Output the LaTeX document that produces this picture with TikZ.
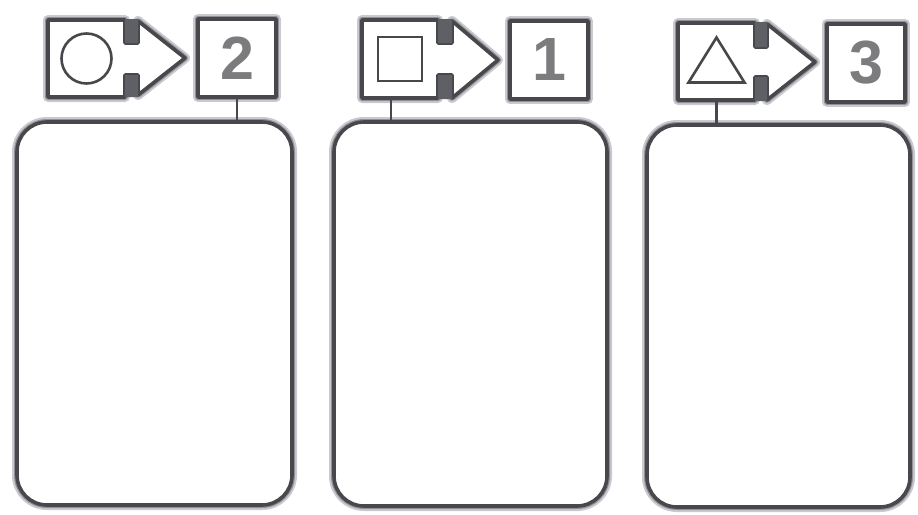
\documentclass[tikz,border=0pt]{standalone}
\usepackage{fontspec}
\newfontfamily\numfont{Liberation Sans}
\usetikzlibrary{calc}
\definecolor{linec}{HTML}{48484C}
\definecolor{numc}{HTML}{7C7C7E}
\definecolor{haloa}{HTML}{C8CAD0}
\definecolor{halob}{HTML}{909298}
\definecolor{notchc}{HTML}{5E6066}
\tikzset{
  frame/.style={draw=linec, line width=3.6pt, line join=round,
    preaction={draw=haloa, line width=10pt, line join=round},
    preaction={draw=halob, line width=6pt, line join=round}},
  panel/.style={frame, fill=white, rounded corners=30pt, inner sep=0pt},
  numbox/.style={frame, fill=white, rectangle, minimum width=78pt, minimum height=78pt, inner sep=0pt,
    font=\numfont\bfseries\fontsize{61}{61}\selectfont, text=numc},
  holder/.style={rectangle, draw=none, minimum width=77pt, minimum height=77pt, inner sep=0pt},
  notch/.style={fill=notchc, draw=none},
  sym/.style={draw=linec, line width=2.6pt, line join=miter},
  link/.style={draw=linec, line width=2.4pt}
}
\begin{document}
\begin{tikzpicture}[x=1pt,y=-1pt]
\useasboundingbox[fill=white] (0,0) rectangle (918,514);

% panels
\node[panel, minimum width=275pt, minimum height=383pt] (P1) at (154.5,313.5) {};
\node[panel, minimum width=273pt, minimum height=384pt] (P2) at (470.5,314) {};
\node[panel, minimum width=263pt, minimum height=382pt] (P3) at (778.5,316) {};

% tag 1
\draw[frame, fill=white] (48,20) -- (125,20) -- (125,43) -- (138,43) -- (138,21) -- (185,58)
  -- (138,95) -- (138,75) -- (125,75) -- (125,97) -- (48,97) -- cycle;
\path[notch] (125,19) rectangle (138,43) (125,75) rectangle (138,97);
\node[holder] (L1) at (86.5,58.5) {};
\draw[sym] (L1.center) circle (25pt);
\node[numbox] (N1) at (237,58) {2};

% tag 2
\draw[frame, fill=white] (362,20) -- (438,20) -- (438,43) -- (452,43) -- (452,21) -- (498,60)
  -- (452,98) -- (452,75) -- (438,75) -- (438,98) -- (362,98) -- cycle;
\path[notch] (438,19) rectangle (452,43) (438,75) rectangle (452,99);
\node[holder] (L2) at (400,59) {};
\draw[sym] ($(L2.center)+(-22,-22)$) rectangle ($(L2.center)+(22,22)$);
\node[numbox] (N2) at (549,60) {1};

% tag 3
\draw[frame, fill=white] (678,23) -- (755,23) -- (755,47) -- (767,47) -- (767,24) -- (815,62)
  -- (767,100) -- (767,77) -- (755,77) -- (755,100) -- (678,100) -- cycle;
\path[notch] (755,22) rectangle (767,47) (755,77) rectangle (767,101);
\node[holder] (L3) at (716.5,61.5) {};
\draw[sym] ($(L3.center)+(-28,21)$) -- ($(L3.center)+(0,-24)$) -- ($(L3.center)+(28,21)$) -- cycle;
\node[numbox] (N3) at (866,63) {3};

% connectors
\draw[link] (N1.south) -- (N1.south |- P1.north);
\draw[link] ($(L2.south)+(-9,0)$) coordinate (c2) -- (c2 |- P2.north);
\draw[link] (L3.south) -- (L3.south |- P3.north);
\end{tikzpicture}
\end{document}
